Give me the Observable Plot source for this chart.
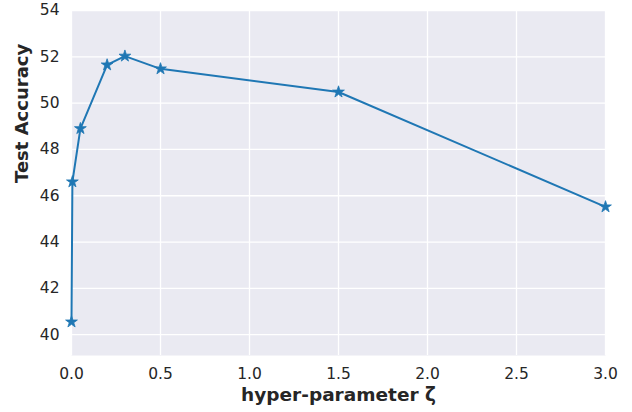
<!DOCTYPE html>
<html>
<head>
<meta charset="utf-8">
<script src="https://cdn.jsdelivr.net/npm/d3@7"></script>
<script src="https://cdn.jsdelivr.net/npm/@observablehq/plot@0.6"></script>
<style>
  body { margin: 0; background: #fff; }
  svg { display: block; }
</style>
</head>
<body>
<div id="chart"></div>
<script>
const zeta = [0, 0.005, 0.05, 0.2, 0.3, 0.5, 1.5, 3.0];
const accuracy = [40.55, 46.6, 48.9, 51.65, 52.03, 51.48, 50.48, 45.52];
const xTicks = [0, 0.5, 1.0, 1.5, 2.0, 2.5, 3.0];
const yTicks = [40, 42, 44, 46, 48, 50, 52, 54];

const data = zeta.map((z, i) => ({z, acc: accuracy[i]}));

const chart = Plot.plot({
  width: 632,
  height: 412,
  marginLeft: 71,
  marginRight: 27,
  marginTop: 10,
  marginBottom: 57,
  style: {fontFamily: "DejaVu Sans", fontSize: "15.5px", color: "#262626", background: "#fff"},
  x: {domain: [0, 3]},
  y: {domain: [39.1, 54]},
  marks: [
    Plot.frame({fill: "#EAEAF2", stroke: null}),
    Plot.gridX(xTicks, {stroke: "#fff", strokeOpacity: 1, strokeWidth: 1.3}),
    Plot.gridY(yTicks, {stroke: "#fff", strokeOpacity: 1, strokeWidth: 1.3}),
    Plot.axisX(xTicks, {tickSize: 0, tickPadding: 12, label: null, tickFormat: d => d.toFixed(1), fontSize: 15.5, fill: "#262626"}),
    Plot.axisY(yTicks, {tickSize: 0, tickPadding: 12, label: null, tickFormat: d => String(d), fontSize: 15.5, fill: "#262626"}),
    Plot.line(data, {x: "z", y: "acc", stroke: "#1f77b4", strokeWidth: 2}),
    Plot.dot(data, {x: "z", y: "acc", symbol: "star", r: 3.7, fill: "#1f77b4", stroke: "#1f77b4", strokeWidth: 0.8}),
    Plot.text(["hyper-parameter ζ"], {frameAnchor: "bottom", dy: 45, fontSize: 18.5, fontWeight: "bold", fill: "#262626"}),
    Plot.text(["Test Accuracy"], {frameAnchor: "left", dx: -49, rotate: -90, fontSize: 18, fontWeight: "bold", fill: "#262626"})
  ]
});
document.getElementById("chart").appendChild(chart);
</script>
</body>
</html>
